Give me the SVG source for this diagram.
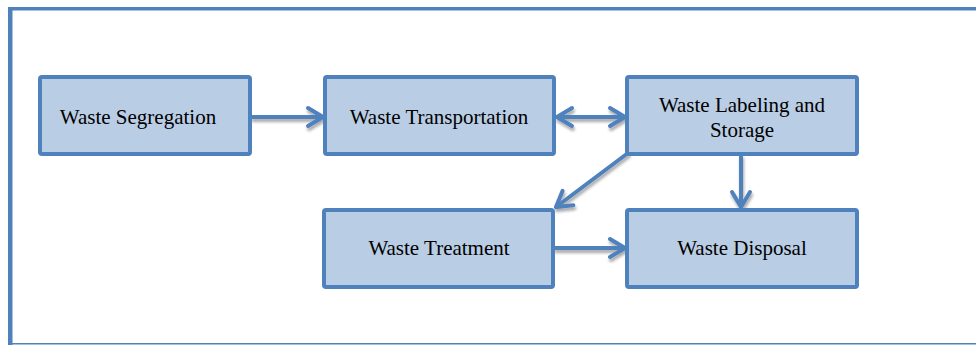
<svg xmlns="http://www.w3.org/2000/svg" width="976" height="345" viewBox="0 0 976 345">
<style>
.box{fill:#B9CDE5;stroke:#4F81BD;stroke-width:4;}
.lbl{font-family:"Liberation Serif","Times New Roman",serif;font-size:21px;fill:#000;text-anchor:middle;}
.con{stroke:#4F81BD;stroke-width:4;fill:none;stroke-linecap:round;}
</style>
<defs>
<marker id="ah" markerUnits="userSpaceOnUse" viewBox="-18 -12 22 24" markerWidth="22" markerHeight="24" refX="0" refY="0" orient="auto-start-reverse">
<polyline points="-15,-9 0,0 -15,9" fill="none" stroke="#4F81BD" stroke-width="4" stroke-linecap="round" stroke-linejoin="round"/>
</marker>
<filter id="sh" x="-20%" y="-20%" width="140%" height="160%">
<feGaussianBlur in="SourceAlpha" stdDeviation="1.5"/>
<feOffset dx="1" dy="3" result="b"/>
<feComponentTransfer><feFuncA type="linear" slope="0.35"/></feComponentTransfer>
<feMerge><feMergeNode/><feMergeNode in="SourceGraphic"/></feMerge>
</filter>
</defs>
<rect width="976" height="345" fill="#fff"/>
<g id="frame" fill="#4F81BD">
<rect x="8" y="7" width="968" height="3.5"/>
<rect x="8" y="7" width="4.5" height="338"/>
<rect x="8" y="343" width="968" height="1.5"/>
</g>
<g id="connectors" filter="url(#sh)">
<line class="con" x1="252" y1="117" x2="323" y2="117" marker-end="url(#ah)"/>
<line class="con" x1="557" y1="117" x2="625" y2="117" marker-start="url(#ah)" marker-end="url(#ah)"/>
<line class="con" x1="628" y1="153" x2="556" y2="207" marker-end="url(#ah)"/>
<line class="con" x1="741" y1="156" x2="741" y2="207" marker-end="url(#ah)"/>
<line class="con" x1="555" y1="248" x2="625" y2="248" marker-end="url(#ah)"/>
</g>
<g id="n1"><rect class="box" x="40" y="77" width="210" height="77" rx="2"/><text class="lbl" x="138" y="124">Waste Segregation</text></g>
<g id="n2"><rect class="box" x="325" y="77" width="229" height="77" rx="2"/><text class="lbl" x="439" y="124">Waste Transportation</text></g>
<g id="n3"><rect class="box" x="627" y="77" width="230" height="77" rx="2"/><text class="lbl" x="742" y="112">Waste Labeling and</text><text class="lbl" x="742" y="137">Storage</text></g>
<g id="n4"><rect class="box" x="324" y="210" width="229" height="77" rx="2"/><text class="lbl" x="439" y="255">Waste Treatment</text></g>
<g id="n5"><rect class="box" x="627" y="210" width="230" height="77" rx="2"/><text class="lbl" x="742" y="255">Waste Disposal</text></g>
</svg>
